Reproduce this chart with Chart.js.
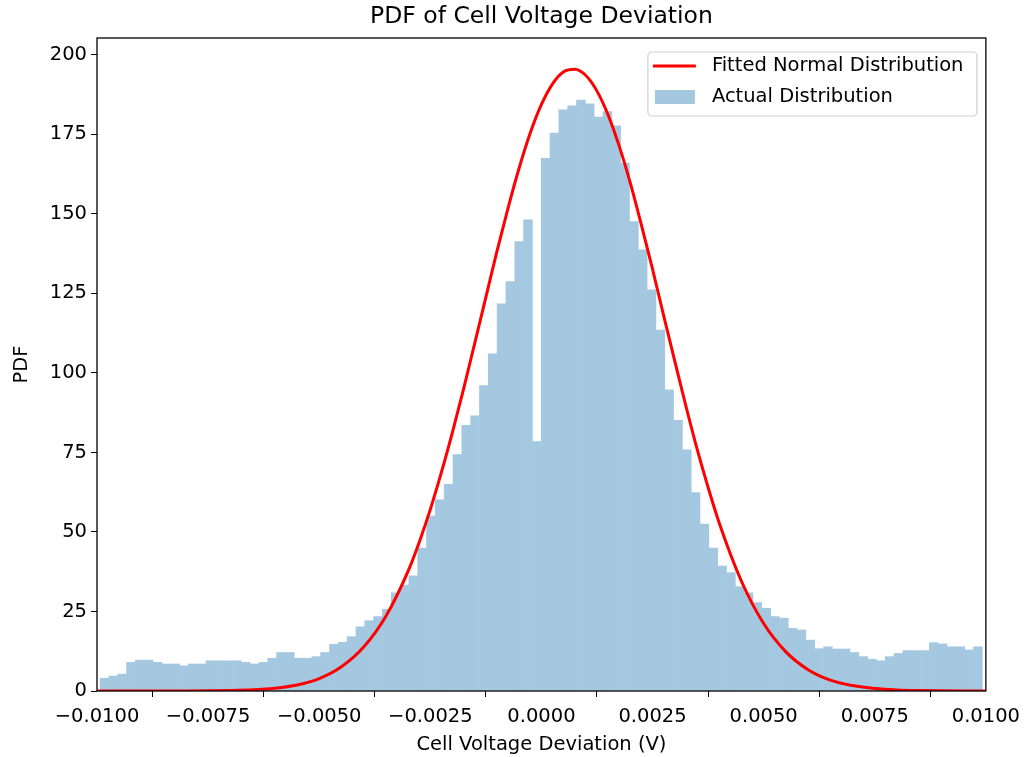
<!DOCTYPE html>
<html>
<head>
<meta charset="utf-8">
<script src="https://cdn.jsdelivr.net/npm/chart.js@4.4.1/dist/chart.umd.min.js"></script>
<style>
  html, body { margin: 0; padding: 0; background: #fff; }
  canvas { display: block; }
</style>
</head>
<body>
<canvas id="pdfChart" width="1028" height="757"></canvas>
<script>
// histogram: 100 bins, first bin starts at binStart, each binWidth wide
const binStart = -0.00993;
const binWidth = 0.0001985;
const binHeights = [
  4.0, 4.7, 5.3, 9.0, 9.7, 9.7, 9.0, 8.5, 8.5, 7.9,
  8.5, 8.5, 9.5, 9.5, 9.5, 9.5, 9.0, 8.5, 9.0, 10.3,
  12.1, 12.1, 10.3, 10.3, 10.8, 12.1, 14.7, 15.3, 17.1, 20.2,
  22.1, 23.4, 25.7, 30.9, 33.3, 36.2, 44.9, 55.0, 60.1, 65.0,
  74.3, 83.5, 86.5, 96.0, 106.0, 121.7, 128.7, 141.3, 148.1, 78.4,
  167.5, 175.4, 182.7, 184.0, 185.8, 184.6, 180.4, 182.2, 177.7, 165.9,
  147.6, 138.7, 126.1, 113.5, 94.7, 85.1, 75.8, 62.4, 52.5, 44.9,
  39.3, 37.2, 32.8, 30.9, 27.8, 26.0, 23.4, 22.9, 19.7, 19.2,
  16.0, 13.3, 13.9, 13.2, 13.2, 12.1, 10.8, 10.0, 9.5, 10.8,
  11.8, 12.7, 12.7, 12.7, 15.2, 14.8, 13.9, 13.9, 12.9, 13.9
];

// fitted normal curve
const curveX = [
  -0.01, -0.0095, -0.009, -0.0085, -0.008, -0.0075, -0.007, -0.0065, -0.006, -0.0055,
  -0.005, -0.0045, -0.004, -0.0035, -0.003, -0.00275, -0.0025, -0.00225, -0.002, -0.00175,
  -0.0015, -0.00125, -0.001, -0.00075, -0.0005, -0.00025, 0, 0.00025, 0.0005, 0.00075,
  0.001, 0.00125, 0.0015, 0.00175, 0.002, 0.00225, 0.0025, 0.00275, 0.003, 0.00325,
  0.0035, 0.00375, 0.004, 0.0045, 0.005, 0.0055, 0.006, 0.0065, 0.007, 0.0075,
  0.008, 0.0085, 0.009, 0.0095, 0.01
];
const curveY = [
  0.0, 0.0, 0.0, 0.01, 0.02, 0.06, 0.16, 0.39, 0.89, 1.9,
  3.9, 7.6, 13.8, 23.5, 37.7, 46.8, 57.1, 68.8, 81.5, 95.1,
  109.4, 123.8, 138.3, 151.9, 164.5, 175.5, 184.4, 190.9, 194.7, 195.5,
  193.5, 188.6, 181.1, 171.3, 159.7, 146.5, 132.6, 118.0, 103.7, 89.6,
  76.2, 64.0, 52.8, 34.5, 21.2, 12.3, 6.7, 3.4, 1.7, 0.76,
  0.32, 0.13, 0.05, 0.02, 0.01
];

const xTicks = [-0.01, -0.0075, -0.005, -0.0025, 0, 0.0025, 0.005, 0.0075, 0.01];
const yTicks = [0, 25, 50, 75, 100, 125, 150, 175, 200];

const FONT = 'DejaVu Sans';
const chartTitle = 'PDF of Cell Voltage Deviation';
const histColor = '#a5c8e1';   // tab:blue at alpha 0.4 over white
const curveColor = '#ff0000';

const histData = binHeights.map((h, i) => ({ x: binStart + (i + 0.5) * binWidth, y: h }));
const curveData = curveX.map((x, i) => ({ x: x, y: curveY[i] }));

function fmtX(v) {
  if (Math.abs(v) < 1e-9) v = 0;
  return v.toFixed(4).replace('-', '\u2212');
}

// title over the axes, frame round the plot, matplotlib style legend box
const framePlugin = {
  id: 'frameAndLegend',
  afterDraw(chart) {
    const ctx = chart.ctx;
    const a = chart.chartArea;
    ctx.save();
    ctx.fillStyle = '#000';
    ctx.font = '23.5px "' + FONT + '"';
    ctx.textAlign = 'center';
    ctx.textBaseline = 'middle';
    ctx.fillText(chartTitle, (a.left + a.right) / 2, 17);

    ctx.strokeStyle = '#000';
    ctx.lineWidth = 1.3;
    ctx.strokeRect(a.left, a.top, a.right - a.left, a.bottom - a.top);

    const bw = 329, bh = 64;
    const bx = a.right - 9 - bw, by = a.top + 14;
    ctx.beginPath();
    ctx.roundRect(bx, by, bw, bh, 4);
    ctx.fillStyle = 'rgba(255,255,255,0.8)';
    ctx.fill();
    ctx.strokeStyle = '#d0d0d0';
    ctx.lineWidth = 1.2;
    ctx.stroke();

    ctx.font = '19.5px "' + FONT + '"';
    ctx.textAlign = 'left';
    ctx.textBaseline = 'middle';
    ctx.fillStyle = '#000';
    // red line entry
    ctx.strokeStyle = curveColor;
    ctx.lineWidth = 3;
    ctx.beginPath();
    ctx.moveTo(bx + 5, by + 14);
    ctx.lineTo(bx + 48, by + 14);
    ctx.stroke();
    ctx.fillText(chart.data.datasets[0].label, bx + 64, by + 14);
    // histogram patch entry
    ctx.fillStyle = histColor;
    ctx.fillRect(bx + 7, by + 38, 40, 14);
    ctx.fillStyle = '#000';
    ctx.fillText(chart.data.datasets[1].label, bx + 64, by + 45);
    ctx.restore();
  }
};

new Chart(document.getElementById('pdfChart'), {
  type: 'bar',
  data: {
    datasets: [
      {
        type: 'line',
        label: 'Fitted Normal Distribution',
        data: curveData,
        borderColor: curveColor,
        borderWidth: 3,
        pointRadius: 0,
        cubicInterpolationMode: 'monotone',
        fill: false,
        order: 0
      },
      {
        type: 'bar',
        label: 'Actual Distribution',
        data: histData,
        backgroundColor: histColor,
        borderWidth: 0,
        barPercentage: 1.0,
        categoryPercentage: 1.0,
        order: 1
      }
    ]
  },
  options: {
    responsive: false,
    animation: false,
    devicePixelRatio: 1,
    layout: { padding: { left: 0, right: 41, top: 38, bottom: 0 } },
    plugins: {
      legend: { display: false },
      tooltip: { enabled: false },
      title: { display: false }
    },
    scales: {
      x: {
        type: 'linear',
        min: -0.01,
        max: 0.01,
        offset: false,
        afterFit(scale) { scale.height = 66; },
        afterBuildTicks(scale) { scale.ticks = xTicks.map(v => ({ value: v })); },
        grid: { display: true, drawOnChartArea: false, drawTicks: true, tickLength: 6, color: '#000' },
        border: { display: false },
        ticks: {
          color: '#000',
          padding: 8,
          maxRotation: 0,
          autoSkip: false,
          font: { family: FONT, size: 19.5 },
          callback: v => fmtX(v)
        },
        title: {
          display: true,
          text: 'Cell Voltage Deviation (V)',
          color: '#000',
          font: { family: FONT, size: 19.5 },
          padding: { top: 0, bottom: 0 }
        }
      },
      y: {
        min: 0,
        max: 205.3,
        afterFit(scale) { scale.width = 97; },
        afterBuildTicks(scale) { scale.ticks = yTicks.map(v => ({ value: v })); },
        grid: { display: true, drawOnChartArea: false, drawTicks: true, tickLength: 6, color: '#000' },
        border: { display: false },
        ticks: {
          color: '#000',
          padding: 4,
          font: { family: FONT, size: 19.5 }
        },
        title: {
          display: true,
          text: 'PDF',
          color: '#000',
          font: { family: FONT, size: 19.5 },
          padding: { top: 10, bottom: 0 }
        }
      }
    }
  },
  plugins: [framePlugin]
});
</script>
</body>
</html>
